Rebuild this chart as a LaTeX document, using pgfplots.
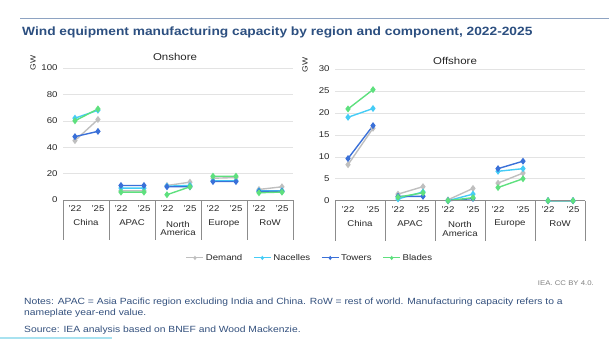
\documentclass[border=0pt]{standalone}
\usepackage{pgfplots}
\usepackage{pgfplotstable}
\pgfplotsset{compat=1.18}
\usepackage{fontspec}
\setmainfont[FakeStretch=1.15]{Liberation Sans}
\definecolor{cDem}{HTML}{BFBFBF}
\definecolor{cNac}{HTML}{45CCF6}
\definecolor{cTow}{HTML}{3A70D8}
\definecolor{cBla}{HTML}{5EE07E}
\definecolor{titleblue}{HTML}{2C4F80}
\definecolor{notesblue}{HTML}{33507D}
\definecolor{gridc}{HTML}{E3E3E3}
\definecolor{axisc}{HTML}{8C8C8C}
\definecolor{topline}{HTML}{8EA3C2}
\definecolor{botline}{HTML}{A8E2F0}

% Onshore
\pgfplotstableread{
x y
0.52 45
1.52 61
nan nan
2.52 7
3.52 7
nan nan
4.52 11
5.52 13.5
nan nan
6.52 16.5
7.52 17
nan nan
8.52 8
9.52 10
}\onDem
\pgfplotstableread{
x y
0.52 62
1.52 68
nan nan
2.52 9
3.52 9
nan nan
4.52 10.5
5.52 11
nan nan
6.52 14.5
7.52 14.5
nan nan
8.52 7
9.52 7
}\onNac
\pgfplotstableread{
x y
0.52 48
1.52 52
nan nan
2.52 11
3.52 11
nan nan
4.52 10
5.52 10
nan nan
6.52 14
7.52 14
nan nan
8.52 6.5
9.52 6.5
}\onTow
\pgfplotstableread{
x y
0.52 60
1.52 69
nan nan
2.52 6
3.52 6
nan nan
4.52 4
5.52 10
nan nan
6.52 18
7.52 18
nan nan
8.52 5.5
9.52 6
}\onBla
% Offshore
\pgfplotstableread{
x y
0.52 8.2
1.52 16.5
nan nan
2.52 1.5
3.52 3.2
nan nan
4.52 0.2
5.52 2.8
nan nan
6.52 4.0
7.52 6.3
nan nan
8.52 0
9.52 0
}\offDem
\pgfplotstableread{
x y
0.52 19
1.52 21
nan nan
2.52 0.4
3.52 2.0
nan nan
4.52 0
5.52 1.5
nan nan
6.52 6.7
7.52 7.3
nan nan
8.52 0
9.52 0
}\offNac
\pgfplotstableread{
x y
0.52 9.6
1.52 17.1
nan nan
2.52 1.0
3.52 1.0
nan nan
4.52 0
5.52 0.5
nan nan
6.52 7.3
7.52 9.0
nan nan
8.52 0
9.52 0
}\offTow
\pgfplotstableread{
x y
0.52 20.9
1.52 25.3
nan nan
2.52 0.8
3.52 1.8
nan nan
4.52 0
5.52 0.7
nan nan
6.52 3.0
7.52 5.0
nan nan
8.52 0
9.52 0
}\offBla

\newcommand{\tfont}{\fontsize{8.4}{9.5}\selectfont}
\pgfplotsset{panel/.style={
  scale only axis, xmin=0, xmax=10, ymin=0, clip=false,
  axis line style={draw=none}, major tick length=0pt,
  ymajorgrids, grid style={gridc, line width=0.6pt},
  xtick={0.52,1.52,2.52,3.52,4.52,5.52,6.52,7.52,8.52,9.52},
  xticklabels={'22,'25,'22,'25,'22,'25,'22,'25,'22,'25},
  tick label style={font=\tfont, text=black!85},
  /pgf/number format/assume math mode=true,
  xticklabel style={yshift=-2bp},
  yticklabel style={xshift=-2bp},
  unbounded coords=jump,
  every axis plot/.append style={line width=1.4pt, mark=diamond*, mark size=2.4pt},
}}
\newcommand{\cats}{%
  \draw[axisc, line width=0.7pt] (axis cs:0,0) -- (axis cs:10,0);
  \draw[axisc, line width=0.7pt] (axis cs:0,0) -- ++(0,-40bp);
  \draw[axisc, line width=0.7pt] (axis cs:2,0) -- ++(0,-40bp);
  \draw[axisc, line width=0.7pt] (axis cs:4,0) -- ++(0,-40bp);
  \draw[axisc, line width=0.7pt] (axis cs:6,0) -- ++(0,-40bp);
  \draw[axisc, line width=0.7pt] (axis cs:8,0) -- ++(0,-40bp);
  \draw[axisc, line width=0.7pt] (axis cs:10,0) -- ++(0,-40bp);
  \node[font=\tfont, text=black!85] at ([yshift=-23bp]axis cs:1,0) {China};
  \node[font=\tfont, text=black!85] at ([yshift=-23bp]axis cs:3,0) {APAC};
  \node[font=\tfont, text=black!85, align=center, inner sep=0pt] at ([yshift=-28.5bp]axis cs:5,0) {North\\[-0.5bp]America};
  \node[font=\tfont, text=black!85] at ([yshift=-23bp]axis cs:7,0) {Europe};
  \node[font=\tfont, text=black!85] at ([yshift=-23bp]axis cs:9,0) {RoW};
}

\begin{document}
\begin{tikzpicture}[x=1bp,y=1bp]
\path[use as bounding box] (0,0) rectangle (611,339);
\draw[topline, line width=1pt] (20,321) -- (609,321);
\node[anchor=west, font=\fontsize{12}{14}\bfseries\selectfont, text=titleblue, inner sep=0pt] at (22,307) {Wind equipment manufacturing capacity by region and component, 2022-2025};

\begin{axis}[panel, at={(63bp,139bp)}, anchor=south west, width=230bp, height=132bp,
  ymax=100, ytick={0,20,40,60,80,100},
  legend style={at={(1.074,-0.439)}, anchor=center, legend columns=4, draw=none, fill=none,
    font=\tfont, text=black!85, inner sep=0pt,
    /tikz/every even column/.append style={column sep=9bp}},
  legend image post style={mark size=1.4pt, line width=1pt},
]
\addplot[cDem, mark options={fill=cDem}] table {\onDem};
\addlegendentry{Demand}
\addplot[cNac, mark options={fill=cNac}] table {\onNac};
\addlegendentry{Nacelles}
\addplot[cTow, mark options={fill=cTow}] table {\onTow};
\addlegendentry{Towers}
\addplot[cBla, mark options={fill=cBla}] table {\onBla};
\addlegendentry{Blades}
\cats
\end{axis}

\begin{axis}[panel, at={(335bp,138.3bp)}, anchor=south west, width=250bp, height=131.7bp,
  ymax=30, ytick={0,5,10,15,20,25,30}]
\addplot[cDem, mark options={fill=cDem}] table {\offDem};
\addplot[cNac, mark options={fill=cNac}] table {\offNac};
\addplot[cTow, mark options={fill=cTow}] table {\offTow};
\addplot[cBla, mark options={fill=cBla}] table {\offBla};
\cats
\end{axis}

\node[font=\fontsize{10}{11}\selectfont, text=black!85] at (175,282) {Onshore};
\node[font=\fontsize{10}{11}\selectfont, text=black!85] at (455,278) {Offshore};
\node[rotate=90, font=\fontsize{7.5}{8}\selectfont, text=black!85] at (33,276) {GW};
\node[rotate=90, font=\fontsize{7.5}{8}\selectfont, text=black!85] at (305,274) {GW};

\node[anchor=east, font=\fontsize{6.8}{8}\selectfont, text=black!50, inner sep=0pt] at (594,56) {IEA. CC BY 4.0.};
\node[anchor=west, font=\fontsize{9}{10}\selectfont, text=notesblue, inner sep=0pt] at (24,36.5) {Notes: APAC = Asia Pacific region excluding India and China. RoW = rest of world. Manufacturing capacity refers to a};
\node[anchor=west, font=\fontsize{9}{10}\selectfont, text=notesblue, inner sep=0pt] at (24,25.5) {nameplate year-end value.};
\node[anchor=west, font=\fontsize{9}{10}\selectfont, text=notesblue, inner sep=0pt] at (24,9) {Source: IEA analysis based on BNEF and Wood Mackenzie.};
\draw[botline, line width=2pt] (0,1) -- (112,1);
\end{tikzpicture}
\end{document}
